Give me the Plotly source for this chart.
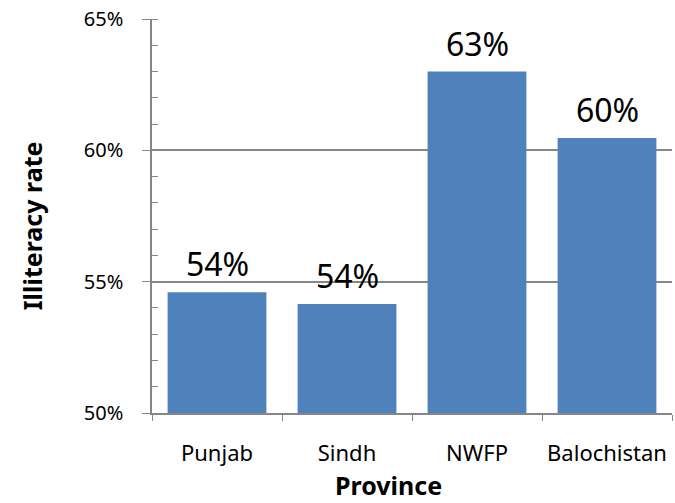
import plotly.graph_objects as go

provinces = ["Punjab", "Sindh", "NWFP", "Balochistan"]
illiteracy = [0.546, 0.5415, 0.630, 0.6047]
labels = ["54%", "54%", "63%", "60%"]
y_ticks = [0.50, 0.55, 0.60, 0.65]
y_tick_text = ["50%", "55%", "60%", "65%"]
x_title = "Province"
y_title = "Illiteracy rate"

FONT = "Noto Sans, Open Sans, sans-serif"
GRID = "#868686"

fig = go.Figure(go.Bar(
    x=provinces, y=illiteracy,
    marker=dict(color="#4F81BD", line=dict(width=0)),
    width=0.76, hoverinfo="skip",
))

for p, v, t in zip(provinces, illiteracy, labels):
    fig.add_annotation(x=p, y=v, text=t, showarrow=False, yanchor="bottom",
                       yshift=5, font=dict(size=32, color="black", family=FONT))

fig.add_annotation(xref="paper", yref="paper", x=-0.232, y=0.475, text=f"<b>{y_title}</b>",
                   textangle=-90, showarrow=False, xanchor="center", yanchor="middle",
                   font=dict(size=25, color="black", family=FONT))
fig.add_annotation(xref="paper", yref="paper", x=0.455, y=-0.184, text=f"<b>{x_title}</b>",
                   showarrow=False, xanchor="center", yanchor="middle", borderpad=0,
                   font=dict(size=25, color="black", family=FONT))

fig.update_layout(
    width=675, height=503,
    margin=dict(l=152, r=3, t=19, b=90),
    plot_bgcolor="white", paper_bgcolor="white",
    showlegend=False,
    font=dict(family=FONT, color="black"),
)
fig.update_xaxes(
    showline=True, linecolor=GRID, linewidth=1.5,
    ticks="outside", tickson="boundaries", ticklen=6, tickcolor=GRID,
    tickfont=dict(size=22, family=FONT), ticklabelstandoff=20,
)
fig.update_yaxes(
    range=[0.50, 0.65], tickvals=y_ticks, ticktext=y_tick_text,
    showline=True, linecolor=GRID, linewidth=1.5,
    showgrid=True, gridcolor=GRID, gridwidth=1.5,
    ticks="outside", ticklen=8, tickcolor=GRID,
    minor=dict(dtick=0.01, ticks="inside", ticklen=6, tickcolor=GRID, showgrid=False),
    tickfont=dict(size=20, family=FONT), ticklabelstandoff=15,
    zeroline=False,
)

fig.write_html("out.html", config={"displayModeBar": False},
               post_script="document.body.style.margin='0';document.body.style.overflow='hidden';")
